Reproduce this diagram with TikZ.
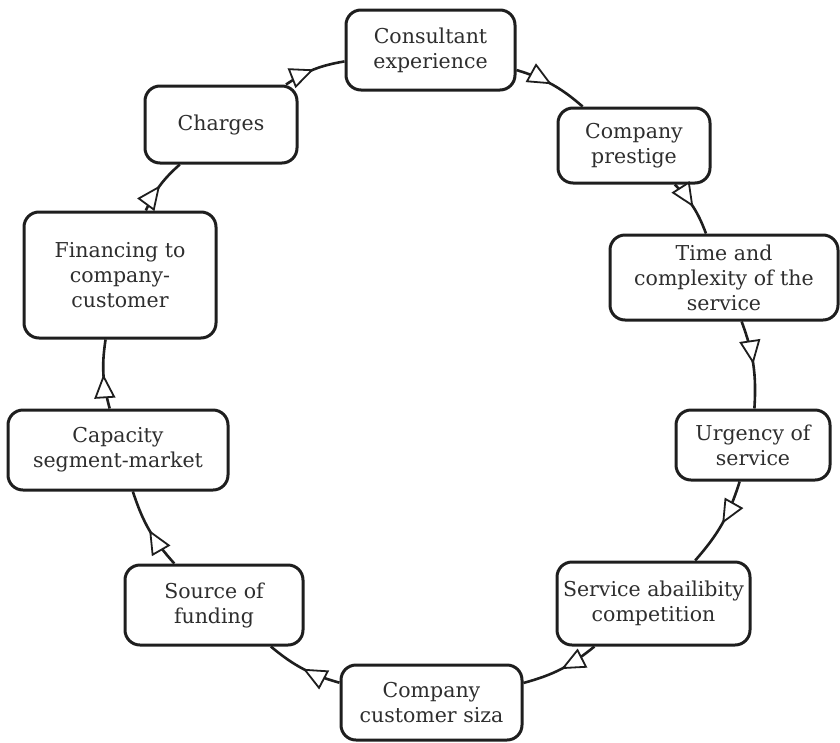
\documentclass[tikz,border=0pt]{standalone}
\usepackage{fontspec}
\setmainfont{DejaVu Serif}
\usetikzlibrary{arrows.meta,decorations.markings}
\definecolor{ink}{HTML}{1E1E1E}
\definecolor{txt}{HTML}{2E2E2E}
\tikzset{
  factor/.style={draw=ink, line width=3pt, rounded corners=15pt, fill=white,
    align=center, text=txt, font=\fontsize{20.5}{25}\selectfont, inner sep=0pt},
  link/.style={draw=ink, line width=2.6pt, bend left=#1,
    postaction={decorate},
    decoration={markings, mark=at position 0.5 with
      {\arrow{Triangle[fill=white, length=24pt, width=21pt, line width=1.8pt]}}}},
  link/.default=12
}
\begin{document}
\begin{tikzpicture}[x=1pt, y=-1pt]
\useasboundingbox (0,0) rectangle (840,742);
% factors arranged around the cycle
\node[factor, minimum width=169pt, minimum height=80pt] (cons) at (430.5,50) {Consultant\\experience};
\node[factor, minimum width=152pt, minimum height=75pt] (pres) at (634,145.5) {Company\\prestige};
\node[factor, minimum width=228pt, minimum height=85pt] (time) at (724,277.5) {Time and\\complexity of the\\service};
\node[factor, minimum width=154pt, minimum height=70pt] (urg) at (753,445) {Urgency of\\service};
\node[factor, minimum width=193pt, minimum height=83pt] (serv) at (653.5,603.5) {Service abailibity\\competition};
\node[factor, minimum width=181pt, minimum height=75pt] (cust) at (431.5,702.5) {Company\\customer siza};
\node[factor, minimum width=178pt, minimum height=80pt] (src) at (214,605) {Source of\\funding};
\node[factor, minimum width=220pt, minimum height=80pt] (cap) at (118,450) {Capacity\\segment-market};
\node[factor, minimum width=192pt, minimum height=126pt] (fin) at (120,275) {Financing to\\company-\\customer};
\node[factor, minimum width=152pt, minimum height=77pt] (chg) at (221,124.5) {Charges};
% the cycle of influences
\draw[link] (chg) to (cons);
\draw[link] (cons) to (pres);
\draw[link] (pres) to (time);
\draw[link] (time) to (urg);
\draw[link] (urg) to (serv);
\draw[link] (serv) to (cust);
\draw[link] (cust) to (src);
\draw[link] (src) to (cap);
\draw[link] (cap) to (fin);
\draw[link] (fin) to (chg);
\end{tikzpicture}
\end{document}
